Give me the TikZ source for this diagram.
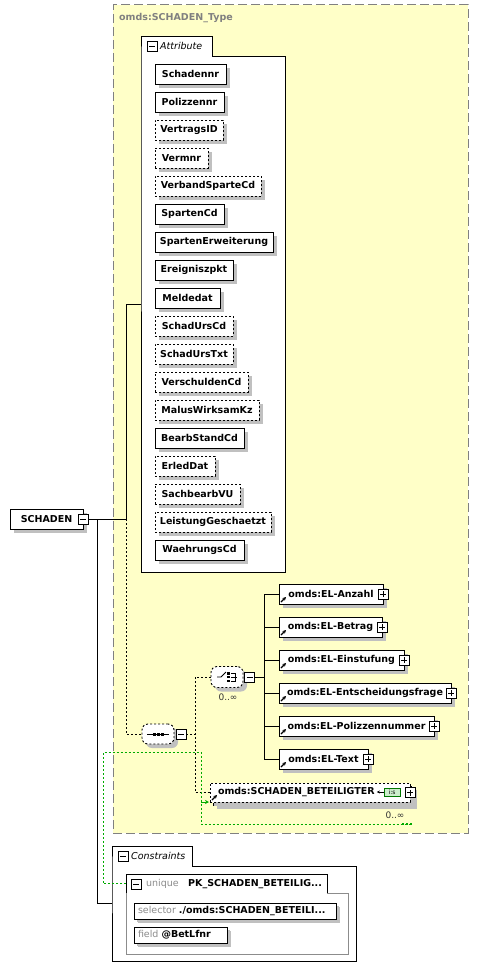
\documentclass[tikz,border=0pt]{standalone}
\usepackage{fontspec}
\setmainfont{DejaVu Sans}
\usetikzlibrary{arrows.meta, positioning, shadows}

\definecolor{typefill}{RGB}{255,255,200}
\definecolor{typeframe}{RGB}{128,128,128}
\definecolor{shadowgray}{RGB}{192,192,192}
\definecolor{keygreen}{RGB}{0,170,0}
\definecolor{isgreen}{RGB}{204,238,204}

\begin{document}
\begin{tikzpicture}[x=1pt, y=-1pt]
    % --- Style Definitions ---
    \tikzset{
        % The complex type background
        type box/.style={
            draw=typeframe,
            line width=1pt,
            fill=typefill,
            dash pattern=on 9pt off 4pt,
            inner sep=0pt, outer sep=0pt
        },
        type title/.style={
            font=\fontsize{9.5}{11}\selectfont\bfseries,
            text=typeframe,
            inner sep=0pt
        },
        % Attribute / Constraints groups
        group area/.style={
            inner sep=0pt, outer sep=0pt
        },
        group frame/.style={
            draw=black, fill=white, line width=0.9pt
        },
        group label/.style={
            font=\fontsize{9.5}{11}\selectfont\itshape,
            inner sep=0pt, anchor=west
        },
        % Element and attribute boxes
        item box/.style={
            draw=black, fill=white, line width=0.9pt,
            font=\fontsize{9.5}{11}\selectfont\bfseries,
            minimum height=20pt,
            inner xsep=0pt, inner ysep=0pt, outer sep=0pt,
            anchor=west,
            drop shadow={shadow xshift=4pt, shadow yshift=-4pt,
                fill=shadowgray, opacity=1}
        },
        optional box/.style={
            dash pattern=on 2pt off 2pt
        },
        % Expand / collapse buttons
        toggle minus/.style={
            draw=black, fill=white, line width=0.9pt,
            minimum size=10pt, inner sep=0pt, outer sep=0pt,
            path picture={
                \draw ([xshift=2pt]path picture bounding box.west)
                    -- ([xshift=-2pt]path picture bounding box.east);
            }
        },
        toggle plus/.style={
            toggle minus,
            path picture={
                \draw ([xshift=2pt]path picture bounding box.west)
                    -- ([xshift=-2pt]path picture bounding box.east);
                \draw ([yshift=2pt]path picture bounding box.south)
                    -- ([yshift=-2pt]path picture bounding box.north);
            }
        },
        % Sequence / choice
        compositor/.style={
            draw=black, fill=white, line width=0.9pt,
            dash pattern=on 2pt off 2pt,
            rounded corners=6pt,
            minimum width=32pt, minimum height=20pt,
            inner sep=0pt,
            drop shadow={shadow xshift=4pt, shadow yshift=-4pt,
                fill=shadowgray, opacity=1}
        },
        occurs/.style={
            font=\fontsize{9}{10}\selectfont,
            text=black!80, inner sep=0pt
        },
        keyword/.style={
            font=\fontsize{9.5}{11}\selectfont,
            text=black!45, inner sep=0pt, anchor=west
        },
        % Connectors
        tree line/.style={
            draw=black, line width=0.9pt
        },
        opt line/.style={
            draw=black, line width=0.9pt,
            dash pattern=on 2pt off 2pt
        },
        key line/.style={
            draw=keygreen, line width=0.9pt,
            dash pattern=on 2pt off 2pt
        },
        key arrow/.style={
            -{Stealth[length=4pt, width=4pt]},
            draw=keygreen, fill=keygreen, line width=0.9pt
        },
        link arrow/.style={
            -{Stealth[length=3.5pt, width=3.5pt]},
            line width=1.2pt
        }
    }

    \useasboundingbox (0,0) rectangle (479,979);

    % --- 1. Complex type frame ---
    \node[type box, minimum width=355pt, minimum height=828pt, anchor=north west] (typebox) at (113,5) {};
    \node[type title, anchor=west] (typetitle) at (119,18) {omds:SCHADEN\_Type};

    % --- 2. Attribute group ---
    \node[group area, minimum width=71pt, minimum height=20pt, anchor=north west] (attrtab) at (141,36) {};
    \node[group area, minimum width=144pt, minimum height=516pt, anchor=north west] (attrbox) at (141,56) {};
    \draw[group frame] (attrbox.south west) -- (attrtab.south west) |- (attrtab.north east)
        -- (attrtab.south east) -- (attrbox.north east) -- (attrbox.south east) -- cycle;
    \node[toggle minus] (attrminus) at (152,46) {};
    \node[group label] (attrlabel) at (160,46) {Attribute};

    \node[item box, minimum width=71pt] (schadennr) at (155,74) {Schadennr};
    \node[item box, minimum width=69pt] (polizzennr) at (155,102) {Polizzennr};
    \node[item box, optional box, minimum width=68pt] (vertragsid) at (155,130) {VertragsID};
    \node[item box, optional box, minimum width=53pt] (vermnr) at (155,158) {Vermnr};
    \node[item box, optional box, minimum width=106pt] (verbandspartecd) at (155,186) {VerbandSparteCd};
    \node[item box, minimum width=69pt] (spartencd) at (155,214) {SpartenCd};
    \node[item box, minimum width=118pt] (spartenerweiterung) at (155,242) {SpartenErweiterung};
    \node[item box, minimum width=78pt] (ereigniszpkt) at (155,270) {Ereigniszpkt};
    \node[item box, minimum width=65pt] (meldedat) at (155,298) {Meldedat};
    \node[item box, optional box, minimum width=78pt] (schadurscd) at (155,326) {SchadUrsCd};
    \node[item box, optional box, minimum width=78pt] (schadurstxt) at (155,354) {SchadUrsTxt};
    \node[item box, optional box, minimum width=93pt] (verschuldencd) at (155,382) {VerschuldenCd};
    \node[item box, optional box, minimum width=104pt] (maluswirksamkz) at (155,410) {MalusWirksamKz};
    \node[item box, minimum width=89pt] (bearbstandcd) at (155,438) {BearbStandCd};
    \node[item box, optional box, minimum width=60pt] (erleddat) at (155,466) {ErledDat};
    \node[item box, optional box, minimum width=85pt] (sachbearbvu) at (155,494) {SachbearbVU};
    \node[item box, optional box, minimum width=116pt] (leistunggeschaetzt) at (155,522) {LeistungGeschaetzt};
    \node[item box, minimum width=89pt] (waehrungscd) at (155,550) {WaehrungsCd};

    % --- 3. Root element ---
    \node[item box, minimum width=73pt] (schaden) at (10,519) {SCHADEN};
    \node[toggle minus] (schadenminus) at (schaden.east) {};

    % --- 4. Sequence ---
    \node[compositor] (seq) at (158,734) {};
    \draw[line width=0.9pt] ([xshift=-11pt]seq.center) -- ([xshift=11pt]seq.center);
    \fill ([shift={(-5.5,-1.5)}]seq.center) rectangle ++(3,3);
    \fill ([shift={(-1.5,-1.5)}]seq.center) rectangle ++(3,3);
    \fill ([shift={(2.5,-1.5)}]seq.center) rectangle ++(3,3);
    \node[toggle minus] (seqminus) at (181,734) {};

    % --- 5. Choice ---
    \node[compositor, minimum height=21pt] (choice) at (227,677) {};
    \draw[line width=0.9pt] ([shift={(-10,0)}]choice.center) -- ++(4,0) -- ++(5,-5);
    \fill ([shift={(0,-5)}]choice.center) rectangle ++(2.5,2.5);
    \fill ([shift={(0,-1.25)}]choice.center) rectangle ++(2.5,2.5);
    \fill ([shift={(0,2.5)}]choice.center) rectangle ++(2.5,2.5);
    \draw[line width=0.9pt] ([shift={(4,-4)}]choice.center) -- ++(4,0) -- ++(0,8) -- ++(-4,0);
    \draw[line width=0.9pt] ([shift={(4,0)}]choice.center) -- ++(6,0);
    \node[toggle minus] (choiceminus) at (249.5,677) {};
    \node[occurs] (choiceoccurs) at (228,697) {0..∞};

    % --- 6. Choice children ---
    \node[item box, minimum width=104pt] (anzahl) at (279,594) {omds:EL-Anzahl};
    \node[toggle plus] (anzahlplus) at (anzahl.east) {};
    \node[item box, minimum width=103pt] (betrag) at (279,627) {omds:EL-Betrag};
    \node[toggle plus] (betragplus) at (betrag.east) {};
    \node[item box, minimum width=125pt] (einstufung) at (279,660) {omds:EL-Einstufung};
    \node[toggle plus] (einstufungplus) at (einstufung.east) {};
    \node[item box, minimum width=172pt] (entscheidung) at (279,693) {omds:EL-Entscheidungsfrage};
    \node[toggle plus] (entscheidungplus) at (entscheidung.east) {};
    \node[item box, minimum width=155pt] (polizzennummer) at (279,726) {omds:EL-Polizzennummer};
    \node[toggle plus] (polizzennummerplus) at (polizzennummer.east) {};
    \node[item box, minimum width=89pt] (eltext) at (279,759) {omds:EL-Text};
    \node[toggle plus] (eltextplus) at (eltext.east) {};

    % --- 7. Repeated reference ---
    \node[item box, optional box, minimum width=200pt, minimum height=19pt] (beteiligterback) at (213,795.5) {};
    \node[item box, optional box, minimum width=200pt, minimum height=19pt, drop shadow={opacity=0}]
        (beteiligter) at (210,792.5) {\makebox[184pt][l]{omds:SCHADEN\_BETEILIGTER}};
    \node[draw=keygreen!70!black, fill=isgreen, minimum width=16pt, minimum height=8pt, inner sep=0pt,
        font=\fontsize{6}{6}\selectfont] (isbox) at (392,792) {i:s};
    \draw[-{Stealth[length=3pt, width=3pt]}, line width=0.9pt] (isbox.west) -- ++(-7,0);
    \node[toggle plus] (beteiligterplus) at (beteiligter.east) {};
    \node[occurs] (beteiligteroccurs) at (395,815) {0..∞};

    % Reference arrows
    \draw[link arrow] ([shift={(2,-2)}]anzahl.south west) -- ++(5,-5);
    \draw[link arrow] ([shift={(2,-2)}]betrag.south west) -- ++(5,-5);
    \draw[link arrow] ([shift={(2,-2)}]einstufung.south west) -- ++(5,-5);
    \draw[link arrow] ([shift={(2,-2)}]entscheidung.south west) -- ++(5,-5);
    \draw[link arrow] ([shift={(2,-2)}]polizzennummer.south west) -- ++(5,-5);
    \draw[link arrow] ([shift={(2,-2)}]eltext.south west) -- ++(5,-5);
    \draw[link arrow] ([shift={(2,-2)}]beteiligter.south west) -- ++(5,-5);

    % --- 8. Constraints group ---
    \node[group area, minimum width=80pt, minimum height=20pt, anchor=north west] (constrtab) at (112,846) {};
    \node[group area, minimum width=244pt, minimum height=95pt, anchor=north west] (constrbox) at (112,866) {};
    \draw[group frame] (constrbox.south west) -- (constrtab.south west) |- (constrtab.north east)
        -- (constrtab.south east) -- (constrbox.north east) -- (constrbox.south east) -- cycle;
    \node[toggle minus] (constrminus) at (123,856) {};
    \node[group label] (constrlabel) at (131,856) {Constraints};

    \node[group area, minimum width=201pt, minimum height=19pt, anchor=north west] (uniquetab) at (126,874) {};
    \node[group area, minimum width=222pt, minimum height=61pt, anchor=north west] (uniquebox) at (126,893) {};
    \draw[draw=black!45, fill=white, line width=0.9pt] (uniquetab.south east) -- (uniquebox.north east)
        -- (uniquebox.south east) -- (uniquebox.south west) -- (uniquetab.south west);
    \draw[group frame] (uniquetab.south west) |- (uniquetab.north east) -- (uniquetab.south east);
    \node[toggle minus] (uniqueminus) at (136,884) {};
    \node[keyword] (uniquekw) at (146,884) {unique};
    \node[font=\fontsize{9.5}{11}\selectfont\bfseries, inner sep=0pt, anchor=west] (uniquename) at (188,884) {PK\_SCHADEN\_BETEILIG...};

    \node[item box, minimum width=202pt, minimum height=16pt, drop shadow={shadow xshift=3pt, shadow yshift=-3pt, fill=shadowgray, opacity=1}]
        (selector) at (134,911) {\makebox[194pt][l]{\mdseries\color{black!45}selector \bfseries\color{black}./omds:SCHADEN\_BETEILI...}};
    \node[item box, minimum width=93pt, minimum height=16pt, drop shadow={shadow xshift=3pt, shadow yshift=-3pt, fill=shadowgray, opacity=1}]
        (field) at (134,935) {\makebox[85pt][l]{\mdseries\color{black!45}field \bfseries\color{black}@BetLfnr}};

    % --- 9. Connectors ---
    \coordinate (attrin) at (141,304);
    \coordinate (constrin) at (112,903);
    \draw[tree line] (schadenminus.east) -- ++(38,0) |- (attrin);
    \draw[opt line] (schadenminus.east) ++(38,0) |- (seq.west);
    \draw[tree line] (schadenminus.east) -- ++(9,0) |- (constrin);

    \draw[opt line] (seqminus.east) -- ++(9,0) |- (choice.west);
    \draw[opt line] (seqminus.east) -- ++(9,0) |- (beteiligter.west);

    \draw[tree line] (choiceminus.east) -- ++(9.5,0) |- (anzahl.west);
    \draw[tree line] (choiceminus.east) -- ++(9.5,0) |- (betrag.west);
    \draw[tree line] (choiceminus.east) -- ++(9.5,0) |- (einstufung.west);
    \draw[tree line] (choiceminus.east) -- ++(9.5,0) |- (entscheidung.west);
    \draw[tree line] (choiceminus.east) -- ++(9.5,0) |- (polizzennummer.west);
    \draw[tree line] (choiceminus.east) -- ++(9.5,0) |- (eltext.west);

    % Key reference (green)
    \coordinate (keycorner) at (103,752);
    \coordinate (keydrop) at (201,824);
    \coordinate (keyend) at (412,824);
    \draw[key line] (uniquetab.west) -| (keycorner) -| (keydrop) -- (keyend);
    \draw[key line, line width=2pt] ([xshift=-10pt]keyend) -- (keyend);
    \draw[key arrow] (keydrop |- beteiligter.south west) -- ([xshift=-1pt]beteiligter.south west);

\end{tikzpicture}
\end{document}
